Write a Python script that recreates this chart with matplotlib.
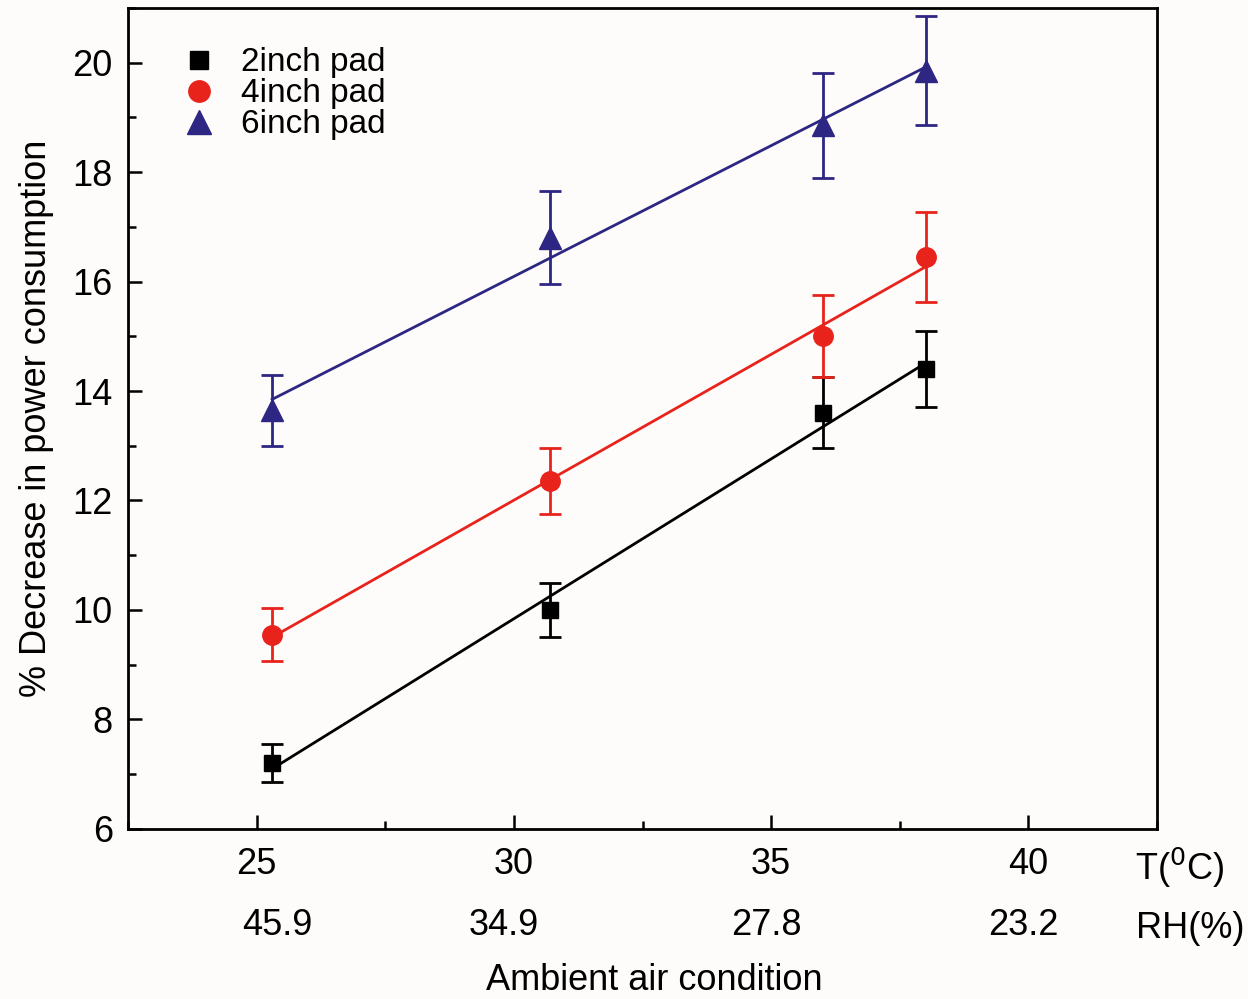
import numpy as np
import matplotlib
matplotlib.use("Agg")
import matplotlib.pyplot as plt
import matplotlib.transforms as mtransforms
from matplotlib.ticker import MultipleLocator

plt.rcParams['font.family'] = ['Liberation Sans', 'DejaVu Sans']

# Data
temps = [25.3, 30.7, 36.0, 38.0]
pad2 = [7.2, 10.0, 13.6, 14.4]
pad2_err = [0.35, 0.5, 0.65, 0.7]
pad4 = [9.55, 12.35, 15.0, 16.45]
pad4_err = [0.48, 0.6, 0.75, 0.82]
pad6 = [13.65, 16.8, 18.85, 19.85]
pad6_err = [0.65, 0.85, 0.95, 1.0]

t_ticks = [25, 30, 35, 40]
rh_labels = ['45.9', '34.9', '27.8', '23.2']
rh_pos = [25.4, 29.8, 34.9, 39.9]

series = [
    ('2inch pad', pad2, pad2_err, 'black', 's', 12),
    ('4inch pad', pad4, pad4_err, '#e8231c', 'o', 14),
    ('6inch pad', pad6, pad6_err, '#2e2683', '^', 16),
]

FS = 26

fig = plt.figure(figsize=(12.48, 9.99), dpi=100, facecolor='#fdfcfa')
ax = fig.add_axes([0.1026, 0.1702, 0.8245, 0.822])
ax.set_facecolor('#fdfcfa')

x = np.array(temps)
handles = []
for label, y, err, color, marker, ms in series:
    y = np.array(y)
    k, b = np.polyfit(x, y, 1)
    xs = np.array([x.min(), x.max()])
    ax.plot(xs, k * xs + b, color=color, lw=2, zorder=2)
    ax.errorbar(x, y, yerr=err, fmt='none', ecolor=color, elinewidth=2,
                capsize=8, capthick=2, zorder=3)
    h, = ax.plot(x, y, linestyle='none', marker=marker, ms=ms, color=color,
                 label=label, zorder=4)
    handles.append(h)

ax.set_xlim(22.5, 42.5)
ax.set_ylim(6, 21)
ax.set_xticks(t_ticks)
ax.xaxis.set_minor_locator(MultipleLocator(2.5))
ax.set_yticks(np.arange(6, 21, 2))
ax.yaxis.set_minor_locator(MultipleLocator(1))
ax.tick_params(which='both', direction='in', width=1.8, labelsize=FS,
               top=False, right=False)
ax.tick_params(which='major', length=10)
ax.tick_params(which='minor', length=6)
ax.tick_params(axis='x', pad=13)
ax.tick_params(axis='y', pad=11)
for s in ax.spines.values():
    s.set_linewidth(2)

ax.set_ylabel('% Decrease in power consumption', fontsize=FS, labelpad=13)

trans = mtransforms.blended_transform_factory(ax.transData, ax.transAxes)
for p, lab in zip(rh_pos, rh_labels):
    ax.text(p, -0.118, lab, transform=trans, ha='center', va='center', fontsize=FS)

fig.text(1180 / 1248, 1 - 868 / 999, 'T($^{0}$C)', ha='center', va='center', fontsize=FS)
fig.text(1190 / 1248, 1 - 928 / 999, 'RH(%)', ha='center', va='center', fontsize=FS)
fig.text(654 / 1248, 1 - 980 / 999, 'Ambient air condition', ha='center', va='center', fontsize=FS)

leg = ax.legend(handles=handles, loc='upper left', bbox_to_anchor=(0.04, 0.968),
                frameon=False, fontsize=24, handlelength=1.0, handletextpad=0.75,
                labelspacing=0.0, borderaxespad=0, markerscale=1.1)

fig.savefig('out.png', dpi=100, facecolor=fig.get_facecolor())
